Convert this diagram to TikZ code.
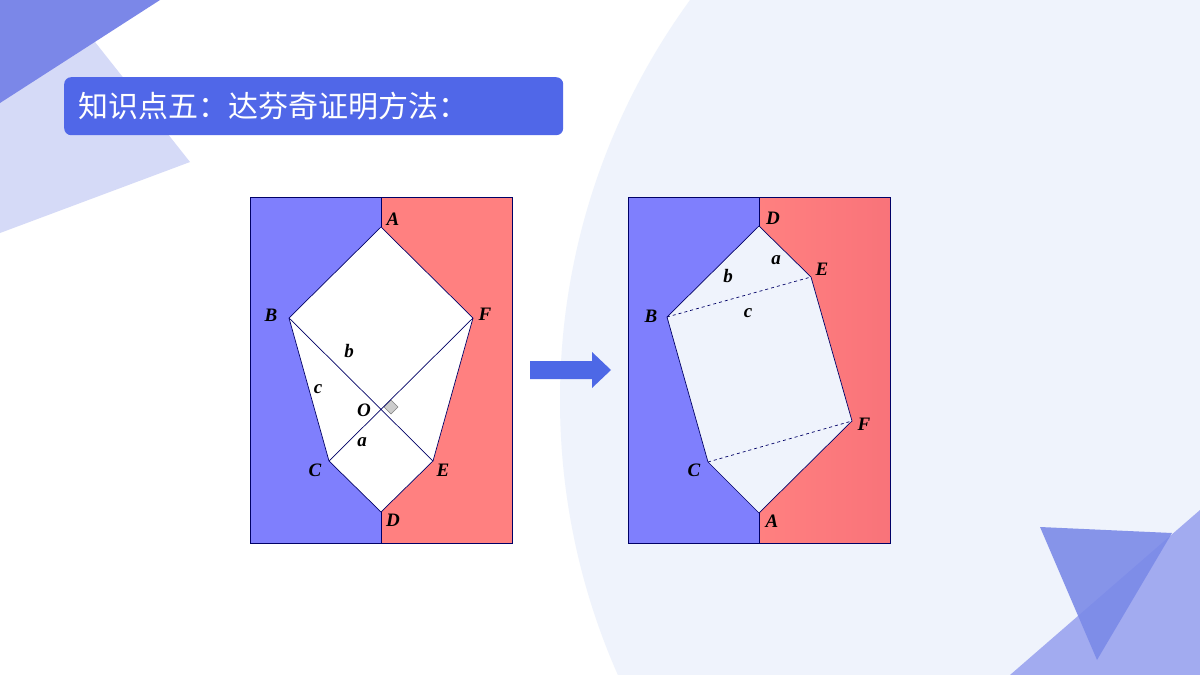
\documentclass[tikz,border=0pt]{standalone}
\usepackage{fontspec}
\setmainfont{Liberation Serif}
\newfontfamily\cjk{Noto Sans CJK SC}
\begin{document}
\begin{tikzpicture}[x=1pt,y=-1pt,
  lbl/.style={font=\fontsize{19}{19}\selectfont\bfseries\itshape,inner sep=1pt},
  edge/.style={draw=blue!40!black,line width=0.7pt}]
\definecolor{bgc}{HTML}{EFF3FC}
\definecolor{pblue}{HTML}{7F7FFD}
\definecolor{pred}{HTML}{FF8080}
\definecolor{lav}{HTML}{D5DAF7}
\definecolor{dk}{HTML}{7B87E8}
\definecolor{lb}{HTML}{A2ABF0}
\definecolor{tri}{HTML}{7B8AE8}
\definecolor{tbox}{HTML}{5067E8}
\definecolor{arr}{HTML}{4D68E6}
\useasboundingbox (0,0) rectangle (1200,675);
\fill[white] (0,0) rectangle (1200,675);
\begin{scope}
\clip (0,0) rectangle (1200,675);
\fill[bgc] (1240,400) circle (680);
\fill[lav] (0,50)--(95,42)--(190,162)--(0,233)--cycle;
\fill[dk] (0,0)--(160,0)--(0,103)--cycle;
\fill[lb] (1010,675)--(1200,510)--(1200,675)--cycle;
\fill[tri,opacity=0.9] (1040,527)--(1172,533)--(1097,660)--cycle;
\end{scope}
\node[fill=tbox,rounded corners=7pt,minimum width=499pt,minimum height=58pt,anchor=north west,text=white,font=\cjk\fontsize{30}{30}\selectfont,inner xsep=14pt,align=left,text width=471pt] (title) at (64,77) {知识点五：达芬奇证明方法：};
% left figure
\fill[pblue] (250,197) rectangle (381,543);
\fill[pred] (381,197) rectangle (512,543);
\draw[edge] (250,197) rectangle (512,543);
\draw[edge] (381,197)--(381,543);
\coordinate (A) at (381,227); \coordinate (B) at (289,318); \coordinate (F) at (473,318);
\coordinate (O) at (381,410); \coordinate (C) at (329,461); \coordinate (E) at (433,461);
\coordinate (D) at (381,512);
\fill[white,draw=blue!40!black,line width=0.7pt] (A)--(F)--(E)--(D)--(C)--(B)--cycle;
\fill[gray!40,draw=gray] (O) ++(3,-3) -- ++(7,-7) -- ++(7,7) -- ++(-7,7) -- cycle;
\draw[edge] (B)--(E) (F)--(C);
\node[lbl] (lA) at (393,219) {A};
\node[lbl] (lB) at (271,315) {B};
\node[lbl] (lF) at (485,314) {F};
\node[lbl] (lO) at (364,410) {O};
\node[lbl] (lC) at (315,470) {C};
\node[lbl] (lE) at (443,470) {E};
\node[lbl] (lD) at (393,520) {D};
\node[lbl] (lb) at (349,351) {b};
\node[lbl] (lc) at (318,389) {c};
\node[lbl] (la) at (362,442) {a};
% arrow
\fill[arr] (530,361)--(592,361)--(592,352)--(611,370)--(592,388)--(592,379)--(530,379)--cycle;
% right figure
\fill[pblue] (628,197) rectangle (759,543);
\shade[left color=pred,right color=pred!90!purple] (759,197) rectangle (890,543);
\draw[edge] (628,197) rectangle (890,543);
\draw[edge] (759,197)--(759,543);
\coordinate (D2) at (759,226); \coordinate (E2) at (811,277); \coordinate (B2) at (667,317);
\coordinate (F2) at (852,421); \coordinate (C2) at (708,462); \coordinate (A2) at (759,513);
\fill[bgc,draw=blue!40!black,line width=0.7pt] (D2)--(E2)--(F2)--(A2)--(C2)--(B2)--cycle;
\draw[edge,dashed] (B2)--(E2) (C2)--(F2);
\node[lbl] (mD) at (773,218) {D};
\node[lbl] (mE) at (822,269) {E};
\node[lbl] (mB) at (651,316) {B};
\node[lbl] (mF) at (864,424) {F};
\node[lbl] (mC) at (694,470) {C};
\node[lbl] (mA) at (772,521) {A};
\node[lbl] (mb) at (728,276) {b};
\node[lbl] (ma) at (776,260) {a};
\node[lbl] (mc) at (748,313) {c};
\end{tikzpicture}
\end{document}
